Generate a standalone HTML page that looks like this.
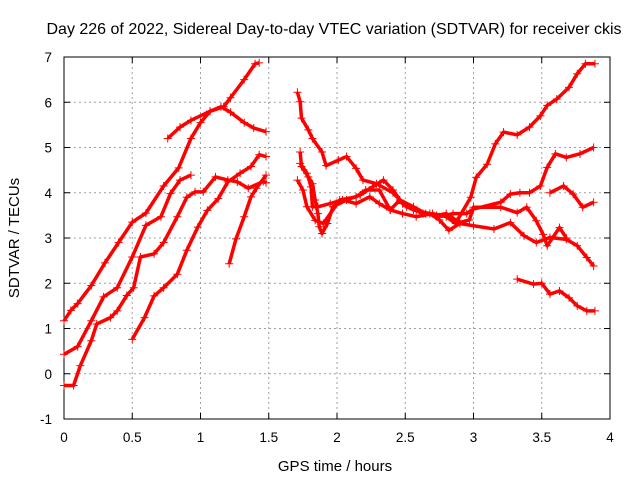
<!DOCTYPE html>
<html><head><meta charset="utf-8"><style>
body{margin:0;background:#fff}
svg{display:block;font-family:"Liberation Sans",sans-serif}
</style></head><body>
<svg id="chart" width="640" height="480">
<text x="334" y="34" font-size="16" text-anchor="middle">Day 226 of 2022, Sidereal Day-to-day VTEC variation (SDTVAR) for receiver ckis</text>
<text x="335" y="471" font-size="15" text-anchor="middle">GPS time / hours</text>
<text transform="translate(19,238) rotate(-90)" font-size="15" text-anchor="middle">SDTVAR / TECUs</text>
<g id="grid"></g><g id="axes"></g><g id="marks"></g>
</svg>
<script>
const xTicks=[0,0.5,1,1.5,2,2.5,3,3.5,4];
const xTickLabels=["0","0.5","1","1.5","2","2.5","3","3.5","4"];
const yTicks=[-1,0,1,2,3,4,5,6,7];
const yTickLabels=["-1","0","1","2","3","4","5","6","7"];
const tA=[0,0.05,0.1,0.2,0.3,0.4,0.5,0.6,0.73,0.84,0.93,1.0,1.07,1.17,1.22,1.32,1.4,1.43];
const vA=[1.17,1.4,1.55,1.95,2.45,2.9,3.35,3.55,4.15,4.55,5.2,5.55,5.8,5.9,6.1,6.5,6.85,6.87];
const tB=[0.76,0.85,0.93,1.07,1.15,1.22,1.32,1.39,1.48];
const vB=[5.2,5.45,5.6,5.8,5.9,5.78,5.55,5.43,5.35];
const tC=[0,0.1,0.2,0.29,0.39,0.5,0.6,0.71,0.78,0.85,0.93];
const vC=[0.43,0.6,1.17,1.7,1.9,2.58,3.28,3.47,3.98,4.28,4.39];
const tD=[0,0.07,0.12,0.2,0.24,0.34,0.39,0.46,0.51,0.56,0.66,0.73,0.83,0.9,0.96,1.02,1.11,1.2,1.27,1.35,1.46,1.48];
const vD=[-0.26,-0.26,0.18,0.73,1.1,1.24,1.39,1.73,1.9,2.58,2.65,2.9,3.47,3.9,4.02,4.02,4.35,4.28,4.24,4.1,4.25,4.22];
const tE=[0.5,0.59,0.66,0.73,0.83,0.9,0.98,1.05,1.13,1.2,1.29,1.37,1.43,1.48];
const vE=[0.76,1.24,1.72,1.9,2.2,2.73,3.24,3.61,3.87,4.24,4.43,4.58,4.84,4.8];
const tF=[1.21,1.26,1.32,1.37,1.41,1.48];
const vF=[2.43,2.98,3.47,3.91,4.1,4.39];
const tG=[1.71,1.73,1.74,1.79,1.82,1.89,1.92,2.01,2.07,2.14,2.19,2.29,2.41,2.51,2.63,2.73,2.8,2.88,2.98,3.02,3.1,3.16,3.22,3.32,3.41,3.49,3.54,3.61,3.7,3.76,3.82,3.89];
const vG=[6.22,6.01,5.65,5.39,5.2,4.9,4.6,4.72,4.8,4.54,4.28,4.2,4.0,3.69,3.54,3.5,3.54,3.38,3.9,4.34,4.63,5.08,5.34,5.28,5.45,5.7,5.93,6.07,6.33,6.63,6.85,6.85];
const tH=[1.73,1.74,1.79,1.82,1.84,1.86,1.87,1.89,1.93,1.97,2.07,2.17,2.26,2.34,2.41,2.48,2.56,2.68,2.75,2.82,2.9,3.0,3.15,3.27,3.37,3.46,3.56,3.68,3.76,3.83,3.88];
const vH=[4.9,4.58,4.35,4.2,3.84,3.54,3.25,3.1,3.32,3.69,3.84,3.95,4.13,4.28,4.06,3.76,3.62,3.54,3.4,3.17,3.32,3.27,3.2,3.34,3.05,2.9,3.01,2.97,2.83,2.57,2.38];
const tI=[1.71,1.75,1.78,1.84,1.9,2.02,2.14,2.21,2.31,2.39,2.48,2.58,2.7,2.8,2.87,2.97,3.0,3.2,3.32,3.39,3.46,3.51,3.54,3.63,3.68];
const vI=[4.28,4.06,3.69,3.39,3.32,3.84,3.91,4.06,4.06,3.62,3.54,3.47,3.54,3.47,3.32,3.4,3.68,3.68,3.56,3.68,3.38,3.08,2.83,3.23,3.0];
const tJ=[1.73,1.78,1.81,1.82,1.86,1.95,2.04,2.14,2.24,2.31,2.39,2.46,2.56,2.65,2.75,2.85,2.95,3.0,3.2,3.27,3.34,3.41,3.49,3.54,3.6,3.68,3.78,3.88];
const vJ=[4.65,4.43,4.13,3.69,3.69,3.76,3.84,3.76,3.91,3.76,3.62,3.84,3.69,3.54,3.47,3.54,3.54,3.64,3.79,3.97,4.0,4.0,4.15,4.56,4.86,4.78,4.86,5.0];
const tK=[3.56,3.66,3.73,3.8,3.88];
const vK=[4.0,4.15,3.97,3.68,3.79];
const tL=[3.32,3.44,3.5,3.56,3.63,3.7,3.76,3.83,3.89];
const vL=[2.09,1.98,2.0,1.76,1.83,1.68,1.5,1.39,1.39];
const series=[[tA,vA],[tB,vB],[tC,vC],[tD,vD],[tE,vE],[tF,vF],[tG,vG],[tH,vH],[tI,vI],[tJ,vJ],[tK,vK],[tL,vL]];

const X0=64,X1=610,Y0=419,Y1=57;
const sx=v=>X0+(v-0)/(4-0)*(X1-X0);
const sy=v=>Y0-(v+1)/(8)*(Y0-Y1);
const NS="http://www.w3.org/2000/svg";
function mk(tag,attrs,parent){const e=document.createElementNS(NS,tag);for(const k in attrs)e.setAttribute(k,attrs[k]);parent.appendChild(e);return e;}
const grid=document.getElementById('grid'),axes=document.getElementById('axes'),marks=document.getElementById('marks');
xTicks.forEach((t,i)=>{
  const x=sx(t);
  if(i>0&&i<xTicks.length-1){const g=mk('line',{x1:x,x2:x,y1:Y1,y2:Y0,stroke:'#a0a0a0','stroke-dasharray':'2,3'},grid);
  
  }
  mk('line',{x1:x,x2:x,y1:Y0,y2:Y0-6,stroke:'#000'},axes);
  mk('line',{x1:x,x2:x,y1:Y1,y2:Y1+6,stroke:'#000'},axes);
  const l=mk('text',{x:x,y:Y0+23,'font-size':13.5,'text-anchor':'middle'},axes);
  l.textContent=xTickLabels[i];
  
  
});
yTicks.forEach((t,i)=>{
  const y=sy(t);
  if(i>0&&i<yTicks.length-1){const g=mk('line',{x1:X0,x2:X1,y1:y,y2:y,stroke:'#a0a0a0','stroke-dasharray':'2,3'},grid);
  
  }
  mk('line',{x1:X0,x2:X0+6,y1:y,y2:y,stroke:'#000'},axes);
  mk('line',{x1:X1,x2:X1-6,y1:y,y2:y,stroke:'#000'},axes);
  const l=mk('text',{x:X0-12,y:y+5,'font-size':13.5,'text-anchor':'end'},axes);
  l.textContent=yTickLabels[i];
  
  
});
const frame=mk('rect',{x:X0,y:Y1,width:X1-X0,height:Y0-Y1,fill:'none',stroke:'#000'},axes);


series.forEach(([ts,vs])=>{
  const pts=ts.map((t,i)=>sx(t)+','+sy(vs[i])).join(' ');
  const pl=mk('polyline',{points:pts,fill:'none',stroke:'#f00','stroke-width':3.5,'stroke-linejoin':'round'},marks);
  
  
  ts.forEach((t,i)=>{
    const x=sx(t),y=sy(vs[i]);
    const p=mk('path',{d:`M${x-4},${y}H${x+4}M${x},${y-4}V${y+4}`,stroke:'#f00','stroke-width':1},marks);
    
    
  });
});
</script>
</body></html>
